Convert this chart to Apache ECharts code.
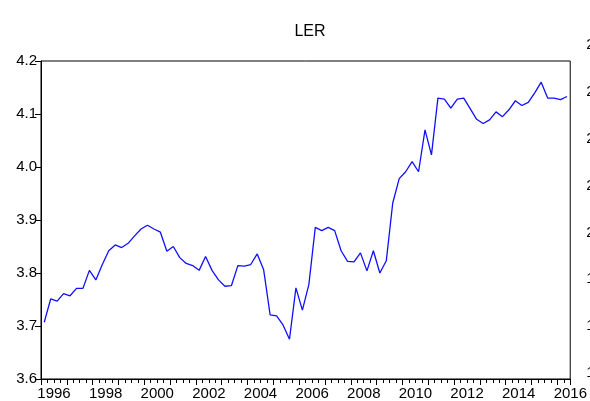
<!DOCTYPE html>
<html>
<head>
<meta charset="utf-8">
<script src="https://cdn.jsdelivr.net/npm/echarts@6/dist/echarts.min.js"></script>
<style>
  html, body { margin: 0; padding: 0; background: #fff; }
  #chart { width: 590px; height: 401px; }
</style>
</head>
<body>
<div id="chart"></div>
<script>
// quarterly LER, 1996Q1 .. 2016Q2
var startYear = 1996;
var ler = [
  3.707, 3.751, 3.747, 3.761, 3.757, 3.771, 3.771, 3.805, 3.787, 3.816,
  3.842, 3.853, 3.848, 3.856, 3.870, 3.883, 3.890, 3.883, 3.877, 3.841,
  3.850, 3.829, 3.818, 3.814, 3.805, 3.831, 3.805, 3.787, 3.775, 3.776,
  3.814, 3.813, 3.816, 3.836, 3.806, 3.721, 3.719, 3.702, 3.675, 3.772,
  3.730, 3.778, 3.886, 3.880, 3.886, 3.880, 3.842, 3.822, 3.821, 3.838,
  3.804, 3.842, 3.800, 3.823, 3.932, 3.978, 3.991, 4.010, 3.991, 4.070,
  4.023, 4.130, 4.128, 4.111, 4.128, 4.130, 4.110, 4.090, 4.082, 4.089,
  4.104, 4.095, 4.108, 4.125, 4.116, 4.122, 4.140, 4.160, 4.130, 4.130,
  4.127, 4.133
];
// labels of the neighbouring chart's axis, cut off at the right edge
var sideLabels = ['2.8', '2.6', '2.4', '2.2', '2.0', '1.8', '1.6', '1.4'];

var font = 'Liberation Sans, Arial, sans-serif';

// each quarter sits in the middle of its slot
var points = ler.map(function(v, i) { return [i + 0.5, v]; });

var chart = echarts.init(document.getElementById('chart'), null, { renderer: 'canvas' });

chart.setOption({
  animation: false,
  title: {
    text: 'LER',
    left: 305,
    top: 19,
    textAlign: 'center',
    textStyle: { fontFamily: font, fontSize: 16, fontWeight: 'normal', color: '#000' }
  },
  grid: [
    { left: 41, right: 19, top: 61, bottom: 22, show: true, borderColor: '#000', borderWidth: 1 },
    { left: 607, width: 100, top: 45, bottom: 28 }
  ],
  xAxis: [
    {
      type: 'value',
      gridIndex: 0,
      min: 0,
      max: ler.length,
      interval: 4,
      axisLine: { lineStyle: { color: '#000', width: 1 } },
      axisTick: { length: 6, lineStyle: { color: '#000' } },
      minorTick: { show: true, splitNumber: 4, length: 4, lineStyle: { color: '#000' } },
      splitLine: { show: false },
      axisLabel: {
        color: '#000',
        fontFamily: font,
        fontSize: 15,
        margin: 7,
        showMaxLabel: false,
        padding: [0, 0, 0, 26],
        formatter: function(v) { return v % 8 === 0 ? String(startYear + v / 4) : ''; }
      }
    },
    { type: 'value', gridIndex: 1, show: false }
  ],
  yAxis: [
    {
      type: 'value',
      gridIndex: 0,
      min: 3.6,
      max: 4.2,
      interval: 0.1,
      axisLine: { show: true, lineStyle: { color: '#000', width: 1 } },
      axisTick: { show: true, length: 6, lineStyle: { color: '#000' } },
      splitLine: { show: false },
      axisLabel: {
        color: '#000',
        fontFamily: font,
        fontSize: 15,
        margin: 4,
        formatter: function(v) { return v.toFixed(1); }
      }
    },
    {
      type: 'category',
      gridIndex: 1,
      inverse: true,
      boundaryGap: false,
      data: sideLabels,
      axisLine: { show: false },
      axisTick: { show: false },
      axisLabel: { color: '#000', fontFamily: font, fontSize: 15, margin: 0 }
    }
  ],
  series: [{
    type: 'line',
    xAxisIndex: 0,
    yAxisIndex: 0,
    data: points,
    showSymbol: false,
    lineStyle: { color: '#1010ff', width: 1.3 },
    itemStyle: { color: '#1010ff' }
  }]
});

window.addEventListener('resize', function() { chart.resize(); });
</script>
</body>
</html>
